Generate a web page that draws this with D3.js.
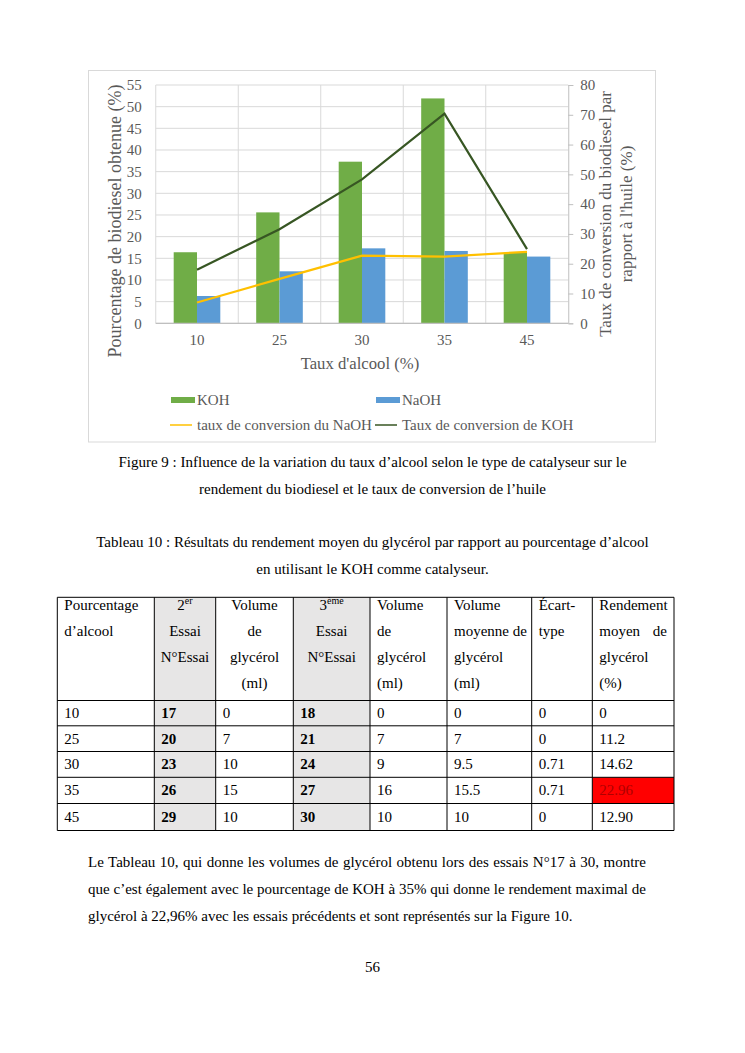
<!DOCTYPE html>
<html>
<head>
<meta charset="utf-8">
<script src="https://cdn.jsdelivr.net/npm/d3@7"></script>
<style>
  body { margin: 0; background: #fff; }
  svg text { font-family: "Liberation Serif", "Times New Roman", serif; }
</style>
</head>
<body>
<svg id="page" width="745" height="1053"></svg>
<script>
// chart data
var categories = ["10", "25", "30", "35", "45"];
var kohYield = [16.4, 25.6, 37.3, 51.9, 16.3];
var naohYield = [6.3, 12.0, 17.3, 16.7, 15.4];
var convNaOH = [7.0, 14.9, 22.7, 22.4, 24.0];
var convKOH = [18.0, 31.6, 48.3, 70.4, 24.9];
var leftTicks = [0, 5, 10, 15, 20, 25, 30, 35, 40, 45, 50, 55];
var rightTicks = [0, 10, 20, 30, 40, 50, 60, 70, 80];

// table data
var tblAlcool = ["10", "25", "30", "35", "45"];
var tblEssai2 = ["17", "20", "23", "26", "29"];
var tblVol2 = ["0", "7", "10", "15", "10"];
var tblEssai3 = ["18", "21", "24", "27", "30"];
var tblVol3 = ["0", "7", "9", "16", "10"];
var tblVolMoy = ["0", "7", "9.5", "15.5", "10"];
var tblEcart = ["0", "0", "0.71", "0.71", "0"];
var tblRend = ["0", "11.2", "14.62", "22.96", "12.90"];

var svg = d3.select("#page");
var grey = "#595959";

svg.append("rect").attr("width", 745).attr("height", 1053).attr("fill", "#fff");

// chart frame
svg.append("rect")
    .attr("x", 88.5).attr("y", 70.5)
    .attr("width", 567).attr("height", 371.5)
    .attr("fill", "#fff").attr("stroke", "#d9d9d9");

var plot = {left: 155.75, right: 568.25, top: 85, bottom: 323.3};

var x = d3.scaleBand().domain(categories).range([plot.left, plot.right]);
var x1 = d3.scaleBand().domain(["KOH", "NaOH"]).range([0, x.bandwidth()]).paddingOuter(0.77);
var y = d3.scaleLinear().domain([0, 55]).range([plot.bottom, plot.top]);
var y2 = d3.scaleLinear().domain([0, 80]).range([plot.bottom, plot.top]);

var g = svg.append("g");

// gridlines
g.selectAll(".hgrid").data(leftTicks).enter().append("line")
    .attr("x1", plot.left).attr("x2", plot.right)
    .attr("y1", function (d) { return y(d); })
    .attr("y2", function (d) { return y(d); })
    .attr("stroke", "#d9d9d9").attr("stroke-width", 1);

g.selectAll(".vgrid").data(categories).enter().append("line")
    .attr("x1", function (d) { return x(d); })
    .attr("x2", function (d) { return x(d); })
    .attr("y1", plot.top).attr("y2", plot.bottom)
    .attr("stroke", "#d9d9d9").attr("stroke-width", 1);

// bars
var bars = categories.map(function (c, i) {
    return {cat: c, koh: kohYield[i], naoh: naohYield[i]};
});

g.selectAll(".koh").data(bars).enter().append("rect")
    .attr("x", function (d) { return x(d.cat) + x1("KOH"); })
    .attr("y", function (d) { return y(d.koh); })
    .attr("width", x1.bandwidth())
    .attr("height", function (d) { return plot.bottom - y(d.koh); })
    .attr("fill", "#70ad47");

g.selectAll(".naoh").data(bars).enter().append("rect")
    .attr("x", function (d) { return x(d.cat) + x1("NaOH"); })
    .attr("y", function (d) { return y(d.naoh); })
    .attr("width", x1.bandwidth())
    .attr("height", function (d) { return plot.bottom - y(d.naoh); })
    .attr("fill", "#5b9bd5");

// bottom axis line
g.append("line")
    .attr("x1", plot.left).attr("x2", plot.right)
    .attr("y1", plot.bottom).attr("y2", plot.bottom)
    .attr("stroke", "#bfbfbf").attr("stroke-width", 1.2);

// right axis
var rightAxis = g.append("g")
    .attr("transform", "translate(" + plot.right + ",0)")
    .call(d3.axisRight(y2).tickValues(rightTicks).tickSize(5).tickPadding(7));
rightAxis.select(".domain").attr("stroke", "#bfbfbf");
rightAxis.selectAll(".tick line").attr("stroke", "#bfbfbf");
rightAxis.selectAll("text")
    .attr("fill", grey).attr("font-size", "15px")
    .attr("font-family", "Liberation Serif, serif");

// left axis (labels only)
var leftAxis = g.append("g")
    .attr("transform", "translate(" + plot.left + ",0)")
    .call(d3.axisLeft(y).tickValues(leftTicks).tickSize(0).tickPadding(14));
leftAxis.select(".domain").remove();
leftAxis.selectAll("text")
    .attr("fill", grey).attr("font-size", "15px")
    .attr("font-family", "Liberation Serif, serif");

// bottom axis labels
var bottomAxis = g.append("g")
    .attr("transform", "translate(0," + plot.bottom + ")")
    .call(d3.axisBottom(x).tickSize(0).tickPadding(11));
bottomAxis.select(".domain").remove();
bottomAxis.selectAll("text")
    .attr("fill", grey).attr("font-size", "15px")
    .attr("font-family", "Liberation Serif, serif");

// conversion lines
var convLine = d3.line()
    .x(function (d, i) { return x(categories[i]) + x.bandwidth() / 2; })
    .y(function (d) { return y2(d); });

g.append("path").datum(convNaOH)
    .attr("d", convLine)
    .attr("fill", "none").attr("stroke", "#ffc000").attr("stroke-width", 2.2);

g.append("path").datum(convKOH)
    .attr("d", convLine)
    .attr("fill", "none").attr("stroke", "#375623").attr("stroke-width", 2.2);

// axis titles
svg.append("text")
    .attr("transform", "translate(121,221) rotate(-90)")
    .attr("text-anchor", "middle")
    .attr("fill", grey).attr("font-size", "18px")
    .text("Pourcentage de biodiesel obtenue (%)");

svg.append("text")
    .attr("transform", "translate(611,214) rotate(-90)")
    .attr("text-anchor", "middle")
    .attr("fill", grey).attr("font-size", "17px")
    .text("Taux de conversion du biodiesel par");

svg.append("text")
    .attr("transform", "translate(632,214) rotate(-90)")
    .attr("text-anchor", "middle")
    .attr("fill", grey).attr("font-size", "17px")
    .text("rapport à l'huile (%)");

svg.append("text")
    .attr("x", (plot.left + plot.right) / 2 - 2).attr("y", 369)
    .attr("text-anchor", "middle")
    .attr("fill", grey).attr("font-size", "16.7px")
    .text("Taux d'alcool (%)");

// legend
var legend = [
    {label: "KOH", type: "bar", color: "#70ad47", x: 171, y: 400},
    {label: "NaOH", type: "bar", color: "#5b9bd5", x: 376, y: 400},
    {label: "taux de conversion du NaOH", type: "line", color: "#ffc000", x: 170, y: 425},
    {label: "Taux de conversion de KOH", type: "line", color: "#375623", x: 375, y: 425}
];
var lg = svg.selectAll(".legend").data(legend).enter().append("g");
lg.filter(function (d) { return d.type === "bar"; }).append("rect")
    .attr("x", function (d) { return d.x; })
    .attr("y", function (d) { return d.y - 3; })
    .attr("width", 24).attr("height", 6)
    .attr("fill", function (d) { return d.color; });
lg.filter(function (d) { return d.type === "line"; }).append("line")
    .attr("x1", function (d) { return d.x; })
    .attr("x2", function (d) { return d.x + 22; })
    .attr("y1", function (d) { return d.y; })
    .attr("y2", function (d) { return d.y; })
    .attr("stroke", function (d) { return d.color; })
    .attr("stroke-width", 1.5);
lg.append("text")
    .attr("x", function (d) { return d.x + (d.type === "bar" ? 26 : 27); })
    .attr("y", function (d) { return d.y + 5; })
    .attr("fill", grey).attr("font-size", "15px")
    .text(function (d) { return d.label; });

// page text
function centered(txt, yy) {
    svg.append("text")
        .attr("x", 372.5).attr("y", yy)
        .attr("text-anchor", "middle")
        .attr("font-size", "15px").attr("fill", "#000")
        .text(txt);
}
centered("Figure 9 : Influence de la variation du taux d’alcool selon le type de catalyseur sur le", 467);
centered("rendement du biodiesel et le taux de conversion de l’huile", 494);
centered("Tableau 10 : Résultats du rendement moyen du glycérol par rapport au pourcentage d’alcool", 547);
centered("en utilisant le KOH comme catalyseur.", 574);
centered("56", 972);

var para = [
    "Le Tableau 10, qui donne les volumes de glycérol obtenu lors des essais N°17 à 30, montre",
    "que c’est également avec le pourcentage de KOH à 35% qui donne le rendement maximal de",
    "glycérol à 22,96% avec les essais précédents et sont représentés sur la Figure 10."
];
para.forEach(function (line, i) {
    var t = svg.append("text")
        .attr("x", 88).attr("y", 867 + i * 27)
        .attr("font-size", "15px").attr("fill", "#000")
        .text(line);
    if (i < para.length - 1) {
        var len = t.node().getComputedTextLength();
        var spaces = line.split(" ").length - 1;
        t.attr("word-spacing", ((646 - 88) - len) / spaces);
    }
});

// table
var colX = [57.3, 154.3, 215.7, 293.3, 370, 447, 531.7, 592.3, 674];
var rowY = [597.3, 700.5, 725.8, 751.5, 777.3, 803.5, 830.5];
var pad = 7;

var tg = svg.append("g");

// grey columns
[1, 3].forEach(function (c) {
    tg.append("rect")
        .attr("x", colX[c]).attr("y", rowY[0])
        .attr("width", colX[c + 1] - colX[c])
        .attr("height", rowY[rowY.length - 1] - rowY[0])
        .attr("fill", "#e7e6e6");
});
// red cell
tg.append("rect")
    .attr("x", colX[7]).attr("y", rowY[4])
    .attr("width", colX[8] - colX[7]).attr("height", rowY[5] - rowY[4])
    .attr("fill", "#ff0000");

// header texts
var headers = [
    {col: 0, align: "left", lines: ["Pourcentage", "d’alcool"]},
    {col: 1, align: "center", lines: [["2", "er"], "Essai", "N°Essai"]},
    {col: 2, align: "center", lines: ["Volume", "de", "glycérol", "(ml)"]},
    {col: 3, align: "center", lines: [["3", "ème"], "Essai", "N°Essai"]},
    {col: 4, align: "left", lines: ["Volume", "de", "glycérol", "(ml)"]},
    {col: 5, align: "left", lines: ["Volume", "moyenne de", "glycérol", "(ml)"]},
    {col: 6, align: "left", lines: ["Écart-", "type"]},
    {col: 7, align: "left", lines: ["Rendement", "moyen", "glycérol", "(%)"]}
];
var headBase = [610, 636, 662, 688];
headers.forEach(function (h) {
    h.lines.forEach(function (ln, i) {
        var cx = h.align === "center" ? (colX[h.col] + colX[h.col + 1]) / 2 : colX[h.col] + pad;
        var t = tg.append("text")
            .attr("x", cx).attr("y", headBase[i])
            .attr("text-anchor", h.align === "center" ? "middle" : "start")
            .attr("font-size", "15px").attr("fill", "#000");
        if (Array.isArray(ln)) {
            t.append("tspan").text(ln[0]);
            t.append("tspan").attr("font-size", "10px").attr("dy", -6).text(ln[1]);
        } else {
            t.text(ln);
        }
    });
});
// justified "de" in last header
tg.append("text")
    .attr("x", colX[8] - pad).attr("y", headBase[1])
    .attr("text-anchor", "end")
    .attr("font-size", "15px").attr("fill", "#000")
    .text("de");

// body rows
var columns = [tblAlcool, tblEssai2, tblVol2, tblEssai3, tblVol3, tblVolMoy, tblEcart, tblRend];
columns.forEach(function (colData, c) {
    tg.selectAll(".c" + c).data(colData).enter().append("text")
        .attr("x", colX[c] + pad)
        .attr("y", function (d, i) { return (rowY[i + 1] + rowY[i + 2]) / 2 + 5; })
        .attr("font-size", "15px")
        .attr("font-weight", (c === 1 || c === 3) ? "bold" : "normal")
        .attr("fill", function (d, i) { return (c === 7 && i === 3) ? "#b00000" : "#000"; })
        .text(function (d) { return d; });
});

// grid lines of table
colX.forEach(function (cx) {
    tg.append("line")
        .attr("x1", cx).attr("x2", cx)
        .attr("y1", rowY[0]).attr("y2", rowY[rowY.length - 1])
        .attr("stroke", "#000").attr("stroke-width", 1);
});
rowY.forEach(function (ry) {
    tg.append("line")
        .attr("x1", colX[0]).attr("x2", colX[colX.length - 1])
        .attr("y1", ry).attr("y2", ry)
        .attr("stroke", "#000").attr("stroke-width", 1);
});
</script>
</body>
</html>
